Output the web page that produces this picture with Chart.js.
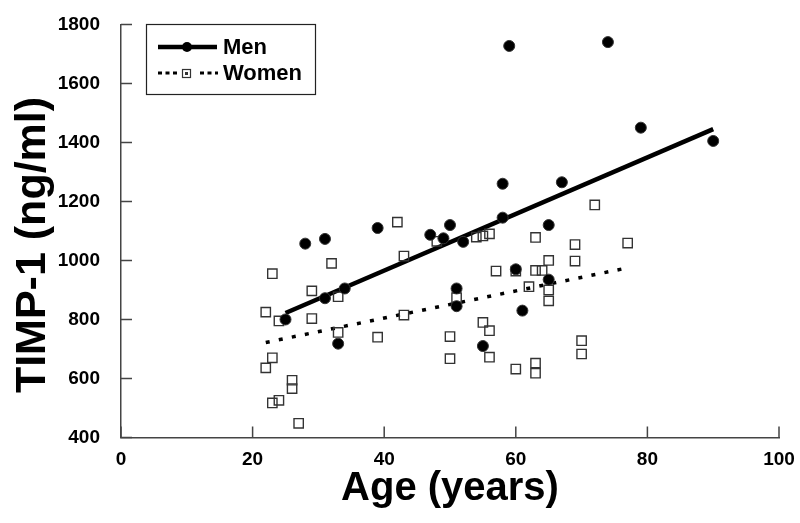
<!DOCTYPE html>
<html>
<head>
<meta charset="utf-8">
<script src="https://cdn.jsdelivr.net/npm/chart.js@4.4.0/dist/chart.umd.min.js"></script>
<style>
html,body{margin:0;padding:0;background:#fff}
#wrap{width:800px;height:523px;position:relative}
</style>
</head>
<body>
<div id="wrap"><canvas id="myChart"></canvas></div>
<script>
// values
var menAge  = [25, 28, 31, 31, 33, 34, 39, 47, 49, 50, 51, 51, 52, 55, 58, 58, 59, 60, 61, 65, 65, 67, 74, 79, 90]
var menTimp = [800, 1057, 1073, 872, 718, 905, 1110, 1087, 1075, 1120, 905, 845, 1063, 710, 1260, 1145, 1727, 970, 830, 1120, 935, 1265, 1740, 1450, 1405]

var womenAge  = [22, 22, 23, 23, 23, 24, 24, 26, 26, 27, 29, 29, 32, 33, 33, 39, 42, 43, 43, 48, 50, 50, 51, 54, 55, 56, 55, 56, 56, 57, 60, 60, 62, 63, 63, 64, 63, 63, 65, 65, 65, 69, 69, 70, 70, 72, 77]
var womenTimp = [825, 636, 955, 670, 517, 795, 526, 594, 566, 448, 897, 803, 990, 877, 756, 740, 1130, 1015, 815, 1065, 742, 667, 874, 1079, 1083, 1090, 790, 762, 672, 964, 964, 632, 911, 1078, 966, 966, 652, 618, 1000, 900, 863, 1054, 998, 728, 683, 1188, 1059]

// regression lines (end points)
var menFitAge = [25, 90]
var menFitTimp = [822, 1445]
var womenFitAge = [22, 77]
var womenFitTimp = [722, 975]

var xTicks = [0, 20, 40, 60, 80, 100]
var yTicks = [400, 600, 800, 1000, 1200, 1400, 1600, 1800]
var yTitle = 'TIMP-1 (ng/ml)'

function pts(xs, ys) {
    var out = []
    for (var i = 0; i < xs.length; i++) out.push({x: xs[i], y: ys[i]})
    return out
}

var FONT = "'Liberation Sans', Arial, sans-serif"

// tick marks point inward on both axes
var innerTicks = {
    id: 'innerTicks',
    afterDatasetsDraw: function(chart) {
        var ctx = chart.ctx, xs = chart.scales.x, ys = chart.scales.y, a = chart.chartArea
        ctx.save()
        ctx.strokeStyle = '#444'
        ctx.lineWidth = 1.5
        ctx.beginPath()
        xTicks.forEach(function(v) {
            var px = xs.getPixelForValue(v)
            ctx.moveTo(px, a.bottom)
            ctx.lineTo(px, a.bottom - 11)
        })
        yTicks.forEach(function(v) {
            var py = ys.getPixelForValue(v)
            ctx.moveTo(a.left, py)
            ctx.lineTo(a.left + 11, py)
        })
        ctx.stroke()
        ctx.restore()
    }
}

// y title sits a little below the plot centre in the original
var yTitlePlugin = {
    id: 'yTitlePlugin',
    afterDraw: function(chart) {
        var ctx = chart.ctx
        ctx.save()
        ctx.translate(33, 245)
        ctx.rotate(-Math.PI / 2)
        ctx.fillStyle = '#000'
        ctx.font = 'bold 43px ' + FONT
        ctx.textAlign = 'center'
        ctx.textBaseline = 'middle'
        ctx.fillText(yTitle, 0, 0)
        ctx.restore()
    }
}

// boxed legend with line + marker samples
var boxLegend = {
    id: 'boxLegend',
    afterDraw: function(chart) {
        var ctx = chart.ctx
        ctx.save()
        ctx.strokeStyle = '#222'
        ctx.lineWidth = 1.2
        ctx.strokeRect(146.5, 24.5, 169, 70)

        // Men
        ctx.strokeStyle = '#000'
        ctx.lineWidth = 4.5
        ctx.beginPath(); ctx.moveTo(158, 47); ctx.lineTo(217, 47); ctx.stroke()
        ctx.fillStyle = '#000'
        ctx.beginPath(); ctx.arc(187, 47, 5, 0, Math.PI * 2); ctx.fill()

        // Women
        ctx.lineWidth = 3
        ctx.setLineDash([4, 3.5])
        ctx.beginPath(); ctx.moveTo(158, 73); ctx.lineTo(180, 73); ctx.stroke()
        ctx.beginPath(); ctx.moveTo(200, 73); ctx.lineTo(218, 73); ctx.stroke()
        ctx.setLineDash([])
        ctx.strokeStyle = '#333'
        ctx.lineWidth = 1.2
        ctx.strokeRect(182.5, 69.5, 8, 8)
        ctx.fillStyle = '#333'
        ctx.fillRect(185, 72, 3, 3)

        ctx.fillStyle = '#000'
        ctx.font = 'bold 22px ' + FONT
        ctx.textBaseline = 'middle'
        ctx.fillText(chart.data.datasets[0].label, 223, 48)
        ctx.fillText(chart.data.datasets[1].label, 223, 74)
        ctx.restore()
    }
}

var myChart = document.getElementById("myChart").getContext('2d')
var chart = new Chart(myChart, {
    type: 'scatter',
    data: {
        datasets: [
            {
                label: "Men",
                data: pts(menAge, menTimp),
                pointStyle: 'circle',
                pointRadius: 5.5,
                backgroundColor: "#000",
                borderColor: "#333",
                borderWidth: 1,
                order: 0
            },
            {
                label: "Women",
                data: pts(womenAge, womenTimp),
                pointStyle: 'rect',
                pointRadius: 6.6,
                backgroundColor: "rgba(0,0,0,0)",
                borderColor: "#333",
                borderWidth: 1.4,
                order: 1
            },
            {
                label: "Men fit",
                type: 'line',
                data: pts(menFitAge, menFitTimp),
                borderColor: "#000",
                borderWidth: 4.5,
                pointRadius: 0,
                fill: false,
                order: 2
            },
            {
                label: "Women fit",
                type: 'line',
                data: pts(womenFitAge, womenFitTimp),
                borderColor: "#000",
                borderWidth: 3.5,
                borderDash: [4, 9.3],
                pointRadius: 0,
                fill: false,
                order: 3
            }
        ]
    },
    options: {
        responsive: true,
        maintainAspectRatio: false,
        animation: false,
        devicePixelRatio: 1,
        layout: { padding: { top: 21, right: 21, left: 0, bottom: 0 } },
        plugins: {
            legend: { display: false },
            tooltip: { enabled: false }
        },
        scales: {
            x: {
                type: 'linear',
                min: 0,
                max: 100,
                afterBuildTicks: function(s) { s.ticks = xTicks.map(function(v) { return {value: v} }) },
                afterFit: function(s) { s.height = 85.5 },
                grid: { display: false },
                border: { color: '#444', width: 1.5 },
                ticks: {
                    color: '#000', padding: 3,
                    font: { family: FONT, size: 19, weight: 'bold' },
                    callback: function(v) { return String(v) }
                },
                title: {
                    display: true,
                    text: 'Age (years)',
                    color: '#000',
                    font: { family: FONT, size: 40, weight: 'bold' },
                    padding: { top: 0, bottom: 10 }
                }
            },
            y: {
                min: 400,
                max: 1800,
                afterBuildTicks: function(s) { s.ticks = yTicks.map(function(v) { return {value: v} }) },
                afterFit: function(s) { s.width = 121 },
                grid: { display: false },
                border: { color: '#444', width: 1.5 },
                ticks: {
                    color: '#000', padding: 13,
                    font: { family: FONT, size: 19, weight: 'bold' },
                    callback: function(v) { return String(v) }
                }
            }
        }
    },
    plugins: [innerTicks, yTitlePlugin, boxLegend]
})
</script>
</body>
</html>
